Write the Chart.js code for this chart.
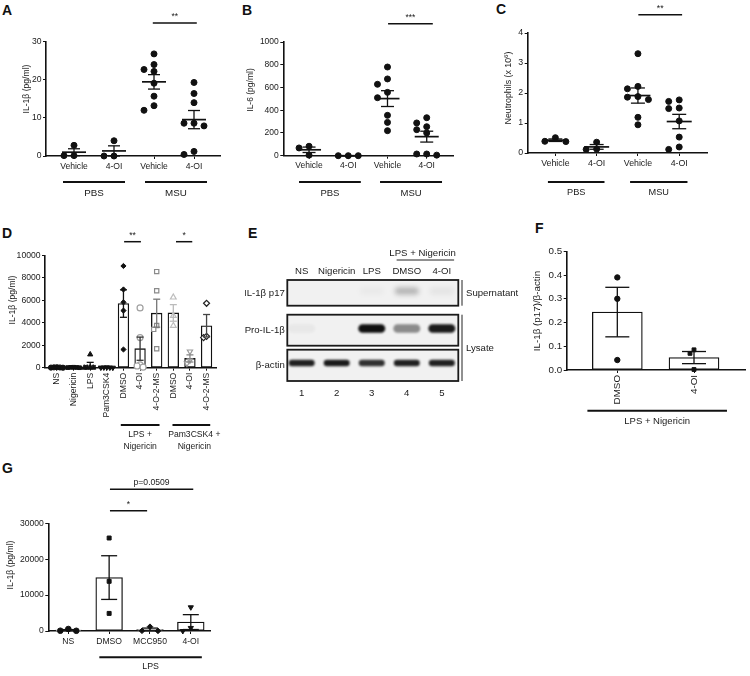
<!DOCTYPE html>
<html>
<head>
<meta charset="utf-8">
<script src="https://cdn.jsdelivr.net/npm/chart.js@4.4.1/dist/chart.umd.min.js"></script>
<style>
body { margin: 0; background: #fff; }
#fig { position: relative; width: 750px; height: 676px; overflow: hidden; font-family: "Liberation Sans", Arial, sans-serif; }
#fig canvas { position: absolute; }
.lbl { position: absolute; font-weight: bold; font-size: 14px; line-height: 14px; color: #111; }
</style>
</head>
<body>
<div id="fig">
  <div class="lbl" style="left:2px;top:3px">A</div>
  <div class="lbl" style="left:242px;top:3px">B</div>
  <div class="lbl" style="left:496px;top:2px">C</div>
  <div class="lbl" style="left:2px;top:226px">D</div>
  <div class="lbl" style="left:248px;top:226px">E</div>
  <div class="lbl" style="left:535px;top:221px">F</div>
  <div class="lbl" style="left:2px;top:461px">G</div>
</div>
<script>
// ---- values ----
// A-C: in vivo MSU peritonitis
const vivoCats = ['Vehicle', '4-OI', 'Vehicle', '4-OI'];
const vivoGroups = ['PBS', 'MSU'];
const aPbsVeh = [2.8, 0.1, 0.1];
const aPbsOI = [4.0, 0, 0];
const aMsuVeh = [26.8, 24.0, 22.7, 22.2, 19.1, 15.7, 13.2, 12.0];
const aMsuOI = [19.3, 16.4, 14.0, 8.6, 8.6, 7.9, 1.2, 0.4];
const bPbsVeh = [83, 68, 5];
const bPbsOI = [0, 0, 0];
const bMsuVeh = [780, 675, 628, 557, 510, 355, 293, 220];
const bMsuOI = [334, 288, 255, 229, 200, 15, 15, 5];
const cPbsVeh = [0.51, 0.39, 0.38];
const cPbsOI = [0.36, 0.13, 0.12];
const cMsuVeh = [3.31, 2.22, 2.14, 1.88, 1.86, 1.78, 1.19, 0.94];
const cMsuOI = [1.77, 1.72, 1.50, 1.48, 1.07, 0.53, 0.20, 0.12];

// D: IL-1b release in vitro
const dCats = ['NS', 'Nigericin', 'LPS', 'Pam3CSK4', 'DMSO', '4-OI', '4-O-2-MS', 'DMSO', '4-OI', '4-O-2-MS'];
const dGroups = [['LPS +', 'Nigericin'], ['Pam3CSK4 +', 'Nigericin']];
const dNS = [40, 20, 10, 0, 30];
const dNig = [30, 10, 20, 0, 40];
const dLPS = [1180, 20, 0, 0, 0];
const dPam = [20, 10, 0, 30, 10];
const dLpsDMSO = [9050, 6960, 5815, 5080, 1620];
const dLpsOI = [5320, 2680, 250, 150, 50];
const dLps2MS = [8550, 6850, 3760, 3410, 1680];
const dPamDMSO = [6260, 4620, 3740];
const dPamOI = [1440, 650, 380];
const dPam2MS = [5730, 2680, 2790];

// E: western blot, band intensity per lane (0 = none, 1 = saturated)
const eLanes = ['NS', 'Nigericin', 'LPS', 'DMSO', '4-OI'];
const eRows = ['IL-1β p17', 'Pro-IL-1β', 'β-actin'];
const eP17 = [0, 0, 0.03, 0.28, 0.06];
const eProIL = [0.04, 0, 1.0, 0.45, 0.95];
const eActin = [0.92, 0.95, 0.85, 0.92, 0.92];

// F: p17 / actin densitometry
const fCats = ['DMSO', '4-OI'];
const fDMSO = [0.39, 0.30, 0.042];
const fOI = [0.085, 0.07, 0.002];

// G: IL-1b, LPS alone
const gCats = ['NS', 'DMSO', 'MCC950', '4-OI'];
const gNS = [80, 560, 60];
const gDMSO = [25900, 13840, 4900];
const gMCC = [1200, 50, 30];
const gOI = [6600, 850, 0];

// ---- helpers ----
const FONT = '"Liberation Sans", Arial, sans-serif';
const mean = a => a.reduce((s, v) => s + v, 0) / a.length;
const sem = a => {
  const m = mean(a);
  return Math.sqrt(a.reduce((s, v) => s + (v - m) * (v - m), 0) / (a.length - 1) / a.length);
};

function seg(ctx, x1, y1, x2, y2) {
  ctx.beginPath(); ctx.moveTo(x1, y1); ctx.lineTo(x2, y2); ctx.stroke();
}

// column scatter: nudge a point sideways only when it would overlap one already placed
function swarm(chart, step) {
  const xs = chart.scales.x, ys = chart.scales.y;
  const unit = xs.getPixelForValue(1) - xs.getPixelForValue(0);
  chart.data.datasets.forEach(ds => {
    if (ds.type !== 'scatter') return;
    const d = ds.pointRadius * 2;
    const placed = [];
    ds.data.map(p => ({p, py: ys.getPixelForValue(p.y)}))
      .sort((a, b) => a.py - b.py)
      .forEach(r => {
        let off = 0;
        for (let k = 0; k < 20; k++) {
          off = (k % 2 ? -1 : 1) * Math.ceil(k / 2) * step;
          if (!placed.some(q => Math.abs(q.off - off) < step * 0.5 && Math.abs(q.py - r.py) < d)) break;
        }
        placed.push({off, py: r.py});
        r.p.x = r.p.cx + off / unit;
      });
  });
  chart.update('none');
}

function annot(c) {
  return {
    id: 'annot',
    afterDatasetsDraw(chart) {
      const ctx = chart.ctx, xs = chart.scales.x, ys = chart.scales.y, ca = chart.chartArea;
      ctx.save();
      ctx.lineCap = 'butt';
      c.groups.forEach(g => {
        const m = mean(g.vals), e = sem(g.vals), px = xs.getPixelForValue(g.pos);
        const yT = ys.getPixelForValue(m + e), yB = ys.getPixelForValue(Math.max(m - e, c.yMin));
        ctx.strokeStyle = g.eb || '#111';
        ctx.lineWidth = 1.3;
        seg(ctx, px, yT, px, yB);
        seg(ctx, px - c.cap, yT, px + c.cap, yT);
        seg(ctx, px - c.cap, yB, px + c.cap, yB);
        if (!c.bars) {
          ctx.lineWidth = 1.7;
          const yM = ys.getPixelForValue(m);
          seg(ctx, px - c.meanW, yM, px + c.meanW, yM);
        }
      });
      ctx.fillStyle = '#1a1a1a';
      ctx.strokeStyle = '#111';
      ctx.font = c.fs + 'px ' + FONT;
      ctx.textAlign = 'center';
      (c.sig || []).forEach(s => {
        const y = ca.top - s.up;
        ctx.lineWidth = 1.5;
        seg(ctx, xs.getPixelForValue(s.from), y, xs.getPixelForValue(s.to), y);
        ctx.textBaseline = 'alphabetic';
        ctx.fillText(s.text, (xs.getPixelForValue(s.from) + xs.getPixelForValue(s.to)) / 2, y - 4);
      });
      ctx.font = (c.gfs || c.fs) + 'px ' + FONT;
      (c.under || []).forEach(u => {
        const y = ca.bottom + c.lineDown;
        ctx.lineWidth = 2;
        const x1 = xs.getPixelForValue(u.from), x2 = xs.getPixelForValue(u.to);
        seg(ctx, x1, y, x2, y);
        ctx.textBaseline = 'middle';
        u.text.forEach((t, k) => ctx.fillText(t, (x1 + x2) / 2 + (u.dx || 0), ca.bottom + c.labelDown + k * 11.7));
      });
      // y axis title
      ctx.font = c.fs + 'px ' + FONT;
      const t = c.title;
      ctx.save();
      ctx.translate(t.x, t.y);
      ctx.rotate(-Math.PI / 2);
      ctx.textBaseline = 'middle';
      if (t.sup) {
        const w1 = ctx.measureText(t.text).width;
        ctx.font = (c.fs * 0.7) + 'px ' + FONT;
        const ws = ctx.measureText(t.sup).width;
        ctx.font = c.fs + 'px ' + FONT;
        const w2 = ctx.measureText(t.tail).width;
        const x0 = -(w1 + ws + w2) / 2;
        ctx.textAlign = 'left';
        ctx.fillText(t.text, x0, 0);
        ctx.font = (c.fs * 0.7) + 'px ' + FONT;
        ctx.fillText(t.sup, x0 + w1, -3);
        ctx.font = c.fs + 'px ' + FONT;
        ctx.fillText(t.tail, x0 + w1 + ws, 0);
      } else {
        ctx.fillText(t.text, 0, 0);
      }
      ctx.restore();
      ctx.restore();
    }
  };
}

function makePanel(c) {
  const cv = document.createElement('canvas');
  cv.width = c.w; cv.height = c.h;
  cv.style.left = c.left + 'px'; cv.style.top = c.top + 'px';
  document.getElementById('fig').appendChild(cv);
  const datasets = [];
  if (c.bars) {
    datasets.push({
      type: 'bar', order: 2,
      data: c.groups.map(g => ({x: g.pos, y: mean(g.vals)})),
      backgroundColor: '#fff', borderColor: '#111', borderWidth: 1.3,
      borderSkipped: false, barThickness: c.barW
    });
  }
  c.groups.forEach(g => datasets.push({
    type: 'scatter', order: 1, clip: false,
    data: g.vals.map(v => ({x: g.pos, y: v, cx: g.pos})),
    pointStyle: g.shape || 'circle', rotation: g.rot || 0,
    pointRadius: g.r || c.r,
    backgroundColor: g.fill || '#111', borderColor: g.stroke || '#111', borderWidth: g.bw || 1
  }));
  const axFont = {family: FONT, size: c.fs};
  const grid = {drawOnChartArea: false, drawTicks: true, tickLength: 3, color: '#111', lineWidth: 1, offset: false};
  const border = {display: true, color: '#111', width: 1.6};
  const chart = new Chart(cv, {
    type: c.bars ? 'bar' : 'scatter',
    data: {datasets},
    options: {
      responsive: false, animation: false, events: [],
      layout: {padding: {left: 0, top: c.area.t, right: c.w - c.area.r, bottom: 0}},
      plugins: {legend: {display: false}, tooltip: {enabled: false}},
      scales: {
        x: {
          type: 'linear', offset: false, min: c.xMin, max: c.xMax,
          afterBuildTicks: s => { s.ticks = c.cats.map((t, i) => ({value: i + 1})); },
          afterFit: s => { s.height = c.h - c.area.b; },
          ticks: {autoSkip: false, minRotation: c.rot || 0, maxRotation: c.rot || 0, font: axFont, color: '#1a1a1a', padding: 2,
            callback: (v, i) => c.cats[i]},
          grid, border
        },
        y: {
          min: c.yMin, max: c.yMax,
          afterFit: s => { s.width = c.area.l; },
          ticks: {stepSize: c.yStep, font: axFont, color: '#1a1a1a', padding: 1.5, callback: c.yFmt || (v => String(v))},
          grid, border
        }
      }
    },
    plugins: [annot(c)]
  });
  swarm(chart, c.step);
  return chart;
}

function dots(list) {
  return list.map((vals, i) => ({pos: i + 1, vals}));
}

// ---- A ----
makePanel({
  left: 0, top: 0, w: 240, h: 200, area: {l: 46, t: 41.7, r: 220, b: 156},
  xMin: 0.3, xMax: 4.65, yMin: 0, yMax: 30, yStep: 10, fs: 8.6, gfs: 9.8, r: 3, step: 10, cap: 6, meanW: 12,
  cats: vivoCats, groups: dots([aPbsVeh, aPbsOI, aMsuVeh, aMsuOI]),
  sig: [{from: 2.97, to: 4.07, up: 18.7, text: '**'}],
  lineDown: 26, labelDown: 37,
  under: [{from: 0.725, to: 2.275, text: [vivoGroups[0]]}, {from: 2.775, to: 4.325, text: [vivoGroups[1]]}],
  title: {text: 'IL-1β (pg/ml)', x: 27, y: 89}
});

// ---- B ----
makePanel({
  left: 240, top: 0, w: 240, h: 200, area: {l: 43.3, t: 42, r: 213, b: 155.7},
  xMin: 0.344, xMax: 4.67, yMin: 0, yMax: 1000, yStep: 200, fs: 8.5, gfs: 9.5, r: 3, step: 10, cap: 6.5, meanW: 12,
  cats: vivoCats, groups: dots([bPbsVeh, bPbsOI, bMsuVeh, bMsuOI]),
  sig: [{from: 3.015, to: 4.155, up: 18.3, text: '***'}],
  lineDown: 26.3, labelDown: 37.3,
  under: [{from: 0.745, to: 2.32, text: [vivoGroups[0]]}, {from: 2.81, to: 4.39, text: [vivoGroups[1]]}],
  title: {text: 'IL-6 (pg/ml)', x: 11, y: 90}
});

// ---- C ----
makePanel({
  left: 480, top: 0, w: 270, h: 200, area: {l: 47.7, t: 33, r: 227.7, b: 153},
  xMin: 0.33, xMax: 4.69, yMin: 0, yMax: 4, yStep: 1, fs: 8.8, gfs: 9.2, r: 3, step: 10.5, cap: 7, meanW: 12.5,
  cats: vivoCats, groups: dots([cPbsVeh, cPbsOI, cMsuVeh, cMsuOI]),
  sig: [{from: 3.01, to: 4.07, up: 18.3, text: '**'}],
  lineDown: 29, labelDown: 39.7,
  under: [{from: 0.82, to: 2.19, text: [vivoGroups[0]]}, {from: 2.81, to: 4.2, text: [vivoGroups[1]]}],
  title: {text: 'Neutrophils (x 10', sup: '6', tail: ')', x: 29, y: 88}
});

// ---- D ----
const dStyle = [
  {shape: 'circle', fill: '#111', stroke: '#111', r: 2.6},
  {shape: 'rect', fill: '#111', stroke: '#111', r: 2.6},
  {shape: 'triangle', fill: '#111', stroke: '#111', r: 3},
  {shape: 'triangle', rot: 180, fill: '#111', stroke: '#111', r: 3},
  {shape: 'rectRot', fill: '#111', stroke: '#111', r: 2.6, eb: '#111'},
  {shape: 'circle', fill: '#fff', stroke: '#a0a0a0', r: 3, bw: 1.2, eb: '#333'},
  {shape: 'rect', fill: '#fff', stroke: '#8a8a8a', r: 3, bw: 1.2, eb: '#777'},
  {shape: 'triangle', fill: '#fff', stroke: '#bdbdbd', r: 3.3, bw: 1.2, eb: '#bbb'},
  {shape: 'triangle', rot: 180, fill: '#fff', stroke: '#999', r: 3, bw: 1.2, eb: '#888'},
  {shape: 'rectRot', fill: '#fff', stroke: '#222', r: 3, bw: 1.2, eb: '#444'}
];
makePanel({
  left: 0, top: 200, w: 240, h: 260, area: {l: 45, t: 55.3, r: 216.7, b: 167.7},
  xMin: 0.28, xMax: 10.61, yMin: 0, yMax: 10000, yStep: 2000, fs: 8.6, r: 3, step: 3, cap: 3.5,
  bars: true, barW: 10.7, rot: 90,
  cats: dCats,
  groups: [dNS, dNig, dLPS, dPam, dLpsDMSO, dLpsOI, dLps2MS, dPamDMSO, dPamOI, dPam2MS]
    .map((vals, i) => Object.assign({pos: i + 1, vals}, dStyle[i])),
  sig: [{from: 5.04, to: 6.05, up: 13.6, text: '**'}, {from: 8.16, to: 9.14, up: 13.6, text: '*'}],
  lineDown: 57.3, labelDown: 67.3,
  under: [{from: 4.84, to: 7.17, text: dGroups[0]}, {from: 7.95, to: 10.22, text: dGroups[1], dx: 3}],
  title: {text: 'IL-1β (pg/ml)', x: 13, y: 100}
});

// ---- F ----
makePanel({
  left: 520, top: 210, w: 230, h: 230, area: {l: 46.7, t: 41.3, r: 225, b: 160},
  xMin: 0.34, xMax: 2.665, yMin: 0, yMax: 0.5, yStep: 0.1, fs: 9.8, gfs: 9.5, r: 2.7, step: 4, cap: 12,
  bars: true, barW: 50, rot: 90, yFmt: v => v.toFixed(1),
  cats: fCats,
  groups: [{pos: 1, vals: fDMSO}, {pos: 2, vals: fOI, shape: 'rect'}],
  lineDown: 40.7, labelDown: 51.7,
  under: [{from: 0.61, to: 2.43, text: ['LPS + Nigericin']}],
  title: {text: 'IL-1β (p17)/β-actin', x: 17.5, y: 101}
});

// ---- G ----
makePanel({
  left: 0, top: 450, w: 240, h: 226, area: {l: 48.3, t: 73.3, r: 210, b: 181},
  xMin: 0.51, xMax: 4.47, yMin: 0, yMax: 30000, yStep: 10000, fs: 8.6, gfs: 8.8, r: 2.8, step: 8, cap: 8,
  bars: true, barW: 26.7,
  cats: gCats,
  groups: [
    {pos: 1, vals: gNS},
    {pos: 2, vals: gDMSO, shape: 'rect'},
    {pos: 3, vals: gMCC, shape: 'rectRot'},
    {pos: 4, vals: gOI, shape: 'triangle', rot: 180, r: 3}
  ],
  sig: [{from: 2.02, to: 4.06, up: 34, text: 'p=0.0509'}, {from: 2.02, to: 2.93, up: 12.6, text: '*'}],
  lineDown: 26.3, labelDown: 35.7,
  under: [{from: 1.76, to: 4.27, text: ['LPS']}],
  title: {text: 'IL-1β (pg/ml)', x: 10.5, y: 115}
});

// ---- E: blot drawn on a hidden linear lane scale ----
(function () {
  const cv = document.createElement('canvas');
  cv.width = 275; cv.height = 165;
  cv.style.left = '245px'; cv.style.top = '240px';
  document.getElementById('fig').appendChild(cv);
  const fs = 9.6;
  const rows = [
    {top: 0, bot: 25.7, mid: 11, vals: eP17, bw: 24, bh: 7, blur: 2.5},
    {top: 34.7, bot: 65.7, mid: 13.8, vals: eProIL, bw: 27, bh: 8.5, blur: 1.3},
    {top: 69.7, bot: 101, mid: 13.3, vals: eActin, bw: 26, bh: 6.5, blur: 1.2}
  ];
  const blot = {
    id: 'blot',
    afterDraw(chart) {
      const ctx = chart.ctx, xs = chart.scales.x, ca = chart.chartArea;
      ctx.save();
      rows.forEach((r, k) => {
        const y0 = ca.top + r.top, y1 = ca.top + r.bot;
        ctx.fillStyle = '#f1f1f1';
        ctx.fillRect(ca.left, y0, ca.right - ca.left, y1 - y0);
        r.vals.forEach((v, i) => {
          if (v <= 0) return;
          const cx = xs.getPixelForValue(i + 1), cy = y0 + r.mid;
          ctx.save();
          ctx.filter = 'blur(' + r.blur + 'px)';
          ctx.fillStyle = 'rgba(15,15,15,' + v + ')';
          ctx.beginPath();
          ctx.roundRect(cx - r.bw / 2, cy - r.bh / 2, r.bw, r.bh, r.bh / 2);
          ctx.fill();
          ctx.restore();
        });
        ctx.strokeStyle = '#1a1a1a';
        ctx.lineWidth = 1.8;
        ctx.strokeRect(ca.left, y0, ca.right - ca.left, y1 - y0);
        ctx.fillStyle = '#1a1a1a';
        ctx.font = fs + 'px ' + FONT;
        ctx.textAlign = 'right';
        ctx.textBaseline = 'middle';
        ctx.fillText(eRows[k], ca.left - 2.5, (y0 + y1) / 2);
      });
      ctx.textAlign = 'center';
      ctx.textBaseline = 'middle';
      eLanes.forEach((t, i) => {
        const x = xs.getPixelForValue(i + 1);
        ctx.fillText(t, x, ca.top - 9);
        ctx.fillText(String(i + 1), x, ca.bottom + 12.3);
      });
      ctx.fillText('LPS + Nigericin', xs.getPixelForValue(4.45), ca.top - 26.7);
      ctx.strokeStyle = '#222';
      ctx.lineWidth = 1;
      seg(ctx, xs.getPixelForValue(3.71), ca.top - 20, xs.getPixelForValue(5.35), ca.top - 20);
      const bx = ca.right + 3.7;
      seg(ctx, bx, ca.top + rows[0].top, bx, ca.top + rows[0].bot);
      seg(ctx, bx, ca.top + rows[1].top, bx, ca.top + rows[2].bot);
      ctx.textAlign = 'left';
      ctx.fillText('Supernatant', bx + 4, ca.top + (rows[0].top + rows[0].bot) / 2);
      ctx.fillText('Lysate', bx + 4, ca.top + (rows[1].top + rows[2].bot) / 2);
      ctx.restore();
    }
  };
  new Chart(cv, {
    type: 'scatter',
    data: {datasets: []},
    options: {
      responsive: false, animation: false, events: [],
      layout: {padding: {left: 42.3, top: 40, right: 61.7, bottom: 24}},
      plugins: {legend: {display: false}, tooltip: {enabled: false}},
      scales: {
        x: {type: 'linear', display: false, min: 0.59, max: 5.47},
        y: {display: false, min: 0, max: 1}
      }
    },
    plugins: [blot]
  });
})();
</script>
</body>
</html>
